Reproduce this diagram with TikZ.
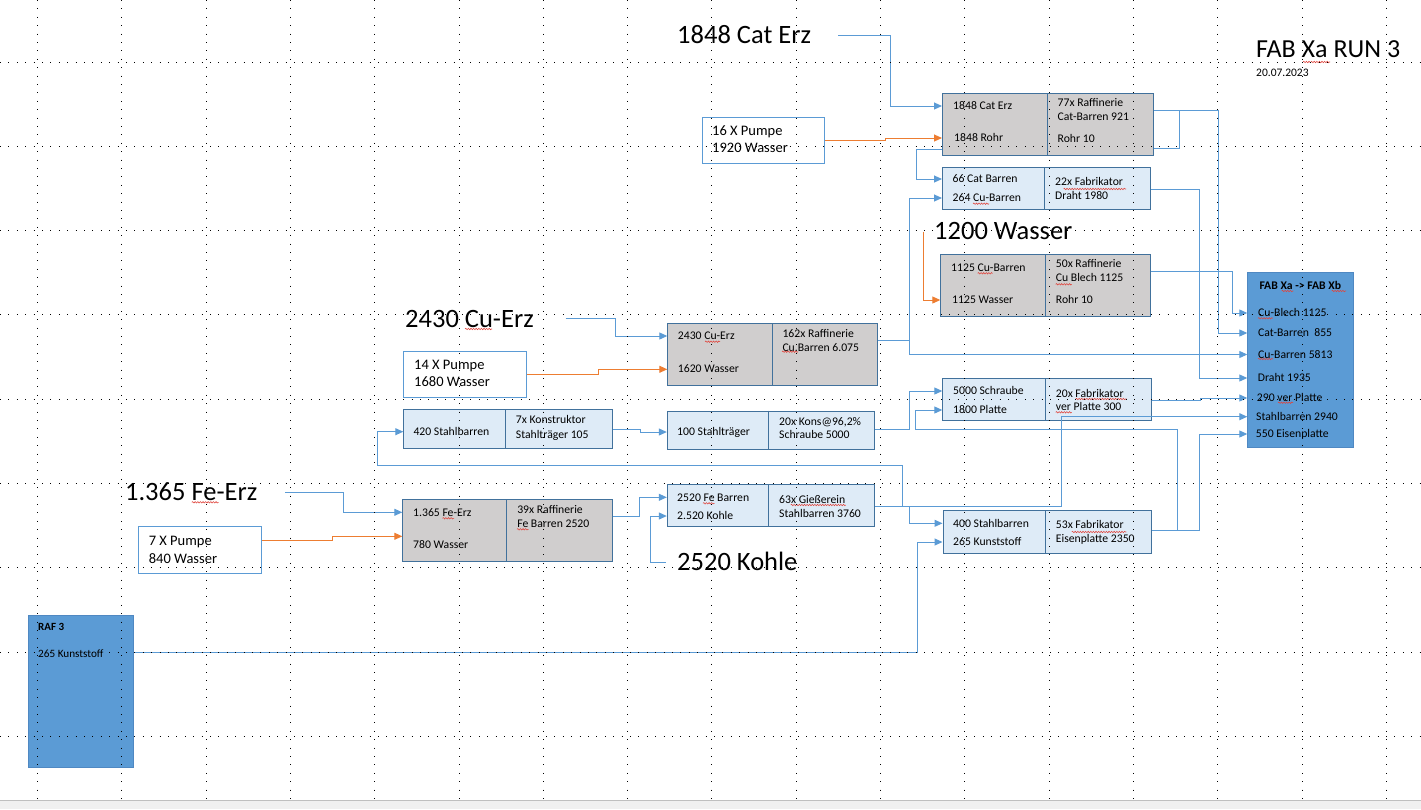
\documentclass[tikz,border=0pt]{standalone}
\usepackage{fontspec}
\setmainfont{Carlito}
\usetikzlibrary{arrows.meta,decorations.pathmorphing}
\definecolor{boxblue}{HTML}{41719C}
\definecolor{gfill}{HTML}{D0CECE}
\definecolor{lfill}{HTML}{DEEBF7}
\definecolor{cblue}{HTML}{5B9BD5}
\definecolor{orng}{HTML}{ED7D31}
\definecolor{fabfill}{HTML}{5B9BD5}
\definecolor{fabdraw}{HTML}{4F88C2}
\definecolor{pumpdraw}{HTML}{5B9BD5}
\definecolor{squigred}{HTML}{E0443C}
\begin{document}
\begin{tikzpicture}[x=1pt,y=-1pt,
 gbox/.style={draw=boxblue, fill=gfill, line width=1pt, inner sep=0pt, anchor=north west},
 lbox/.style={draw=boxblue, fill=lfill, line width=1pt, inner sep=0pt, anchor=north west},
 pbox/.style={draw=pumpdraw, fill=white, line width=1.1pt, inner sep=0pt, anchor=north west},
 fbox/.style={draw=fabdraw, fill=fabfill, line width=1pt, inner sep=0pt, anchor=north west},
 divline/.style={draw=boxblue, line width=0.9pt},
 txt/.style={anchor=west, inner sep=0pt, font=\fontsize{11.7}{13}\selectfont, text height=7.4pt, text depth=0pt},
 btxt/.style={txt, font=\fontsize{11.7}{13}\selectfont\bfseries},
 ptxt/.style={anchor=west, inner sep=0pt, font=\fontsize{14.5}{16}\selectfont, text height=9.2pt, text depth=0pt},
 bigtxt/.style={anchor=west, inner sep=0pt, font=\fontsize{26.5}{30}\selectfont, text height=16.8pt, text depth=0pt},
 conn/.style={draw=cblue, line width=1pt, -{Triangle[length=8pt,width=7pt]}},
 oconn/.style={draw=orng, line width=1pt, -{Triangle[length=8pt,width=7pt]}},
 cline/.style={draw=cblue, line width=1pt},
 squig/.style={draw=squigred, line width=0.55pt, decorate, decoration={snake, segment length=2.6pt, amplitude=0.7pt}},
 griddot/.style={draw=black, line width=0.9pt, dash pattern=on 0.9pt off 7.5pt}
]
\useasboundingbox (0,0) rectangle (1421,809);
\fill[white] (0,0) rectangle (1421,809);
\fill[black!6] (0,800) rectangle (1421,809);
\draw[black!25, line width=0.8pt] (0,800) -- (1421,800);

% ---------- boxes ----------
\node[gbox, minimum width=210.5pt, minimum height=62pt] (boxA) at (942,93.3) {};
\node[lbox, minimum width=208pt, minimum height=42pt] (boxB) at (942,167) {};
\node[gbox, minimum width=209.4pt, minimum height=61.7pt] (boxC) at (940.3,254.3) {};
\node[lbox, minimum width=208.7pt, minimum height=41.7pt] (boxD) at (942.3,378.3) {};
\node[gbox, minimum width=209.4pt, minimum height=62pt] (boxE) at (667.3,323.3) {};
\node[lbox, minimum width=207.5pt, minimum height=38.6pt] (boxF) at (666.8,410.7) {};
\node[lbox, minimum width=208.9pt, minimum height=43pt] (boxG) at (942.5,510.3) {};
\node[lbox, minimum width=207.5pt, minimum height=41.7pt] (boxH) at (666.8,484.3) {};
\node[lbox, minimum width=208.4pt, minimum height=39.3pt] (boxI) at (403.3,409) {};
\node[gbox, minimum width=209.4pt, minimum height=61.7pt] (boxJ) at (402.3,499.3) {};
\node[fbox, minimum width=106pt, minimum height=175.8pt] (fab) at (1247.3,271.5) {};
\node[fbox, minimum width=105.3pt, minimum height=152.3pt] (raf) at (27.6,615) {};
\node[pbox, minimum width=122pt, minimum height=46.3pt] (pump1) at (702,116.7) {};
\node[pbox, minimum width=122.4pt, minimum height=46.6pt] (pump2) at (403.3,350.7) {};
\node[pbox, minimum width=123.2pt, minimum height=47.3pt] (pump3) at (137.5,526) {};

\draw[divline] ([xshift=105.5pt]boxA.north west) -- ([xshift=105.5pt]boxA.south west);
\draw[divline] ([xshift=102pt]boxB.north west) -- ([xshift=102pt]boxB.south west);
\draw[divline] ([xshift=105pt]boxC.north west) -- ([xshift=105pt]boxC.south west);
\draw[divline] ([xshift=102.7pt]boxD.north west) -- ([xshift=102.7pt]boxD.south west);
\draw[divline] ([xshift=105pt]boxE.north west) -- ([xshift=105pt]boxE.south west);
\draw[divline] ([xshift=101.2pt]boxF.north west) -- ([xshift=101.2pt]boxF.south west);
\draw[divline] ([xshift=102.9pt]boxG.north west) -- ([xshift=102.9pt]boxG.south west);
\draw[divline] ([xshift=101.2pt]boxH.north west) -- ([xshift=101.2pt]boxH.south west);
\draw[divline] ([xshift=102pt]boxI.north west) -- ([xshift=102pt]boxI.south west);
\draw[divline] ([xshift=104.1pt]boxJ.north west) -- ([xshift=104.1pt]boxJ.south west);

% ---------- texts ----------
\node[bigtxt] (catErz) at (677,35.5) {1848 Cat Erz};
\node[bigtxt] (wasser) at (934,231.5) {1200 Wasser};
\node[bigtxt] (cuErz) at (405,318.7) {2430 Cu-Erz};
\node[bigtxt] (feErz) at (124.9,492) {1.365 Fe-Erz};
\node[bigtxt] (kohle) at (677,562) {2520 Kohle};
\node[bigtxt, font=\fontsize{26}{30}\selectfont, text height=16.4pt] (title) at (1256,49.5) {FAB Xa RUN 3};
\node[anchor=base west, inner sep=0pt, font=\fontsize{11.5}{13}\selectfont] (date) at (1256,76.7) {20.07.2023};

\node[txt] (tA1) at (953,106) {1848 Cat Erz};
\node[txt] (tA2) at (954,138) {1848 Rohr};
\node[txt] (tAr1) at (1057.5,103) {77x Raffinerie};
\node[txt] (tAr2) at (1057.5,117) {Cat-Barren 921};
\node[txt] (tAr3) at (1057.5,139) {Rohr 10};

\node[txt] (tB1) at (952.5,179) {66 Cat Barren};
\node[txt] (tB2) at (952.5,198) {264 Cu-Barren};
\node[txt] (tBr1) at (1055,182) {22x Fabrikator};
\node[txt] (tBr2) at (1055,196) {Draht 1980};

\node[txt] (tC1) at (951,267.3) {1125 Cu-Barren};
\node[txt] (tC2) at (952,300) {1125 Wasser};
\node[txt] (tCr1) at (1055.7,264) {50x Raffinerie};
\node[txt] (tCr2) at (1055.7,278) {Cu Blech 1125};
\node[txt] (tCr3) at (1055.7,300) {Rohr 10};

\node[txt] (tD1) at (953,391) {5000 Schraube};
\node[txt] (tD2) at (953,410) {1800 Platte};
\node[txt] (tDr1) at (1055.7,393.3) {20x Fabrikator};
\node[txt] (tDr2) at (1055.7,406.7) {ver Platte 300};

\node[txt] (tE1) at (677.7,336) {2430 Cu-Erz};
\node[txt] (tE2) at (677.7,368.3) {1620 Wasser};
\node[txt] (tEr1) at (782.3,333.3) {162x Raffinerie};
\node[txt] (tEr2) at (782.3,347.3) {Cu.Barren 6.075};

\node[txt] (tF1) at (677,432) {100 Stahlträger};
\node[txt] (tFr1) at (779,422) {20x Kons@96,2\%};
\node[txt] (tFr2) at (779,435) {Schraube 5000};

\node[txt] (tG1) at (953,523.3) {400 Stahlbarren};
\node[txt] (tG2) at (953,542) {265 Kunststoff};
\node[txt] (tGr1) at (1055.7,525) {53x Fabrikator};
\node[txt] (tGr2) at (1055.7,539) {Eisenplatte 2350};

\node[txt] (tH1) at (677,497.3) {2520 Fe Barren};
\node[txt] (tH2) at (677,516) {2.520 Kohle};
\node[txt] (tHr1) at (779,499.3) {63x Gießerein};
\node[txt] (tHr2) at (779,513.3) {Stahlbarren 3760};

\node[txt] (tI1) at (413.3,431.7) {420 Stahlbarren};
\node[txt] (tIr1) at (515.7,420) {7x Konstruktor};
\node[txt] (tIr2) at (515.7,434.3) {Stahlträger 105};

\node[txt] (tJ1) at (413,512.3) {1.365 Fe-Erz};
\node[txt] (tJ2) at (413,545) {780 Wasser};
\node[txt] (tJr1) at (517.1,509.3) {39x Raffinerie};
\node[txt] (tJr2) at (517.1,523.3) {Fe Barren 2520};

\node[btxt] (fabT) at (1259.3,286) {FAB Xa -> FAB Xb};
\node[txt] (f1) at (1258,313) {Cu-Blech 1125};
\node[txt] (f2) at (1258,333) {Cat-Barren~ 855};
\node[txt] (f3) at (1258,354.5) {Cu-Barren 5813};
\node[txt] (f4) at (1257.7,378) {Draht 1935};
\node[txt] (f5) at (1256.7,398) {290 ver Platte};
\node[txt] (f6) at (1256,416.7) {Stahlbarren 2940};
\node[txt] (f7) at (1255.7,434) {550 Eisenplatte};

\node[btxt, font=\fontsize{11}{13}\selectfont\bfseries] (rf1) at (38,626.7) {RAF 3};
\node[txt, font=\fontsize{11.2}{13}\selectfont] (rf2) at (38,653.3) {265 Kunststoff};

\node[ptxt] (p1a) at (712,130.7) {16 X Pumpe};
\node[ptxt] (p1b) at (712,148) {1920 Wasser};
\node[ptxt] (p2a) at (414,364.7) {14 X Pumpe};
\node[ptxt] (p2b) at (414,382.3) {1680 Wasser};
\node[ptxt] (p3a) at (148.6,540.7) {7 X Pumpe};
\node[ptxt] (p3b) at (148.6,558.7) {840 Wasser};

% ---------- connectors ----------
\draw[conn] ([xshift=27pt]catErz.east) -- ++(52,0) |- (boxA.west |- tA1);
\draw[oconn] (pump1.east) -- ++(60,0) |- (boxA.west |- tA2);
\draw[conn] (boxA.west |- 0,149) -- ++(-26,0) |- (boxB.west |- tB1);
\draw[cline] (boxA.east |- 0,148.7) -- ++(25.5,0) -- ++(0,-38);
\draw[conn] (boxA.east |- 0,110.7) -- ++(65.2,0) |- (fab.west |- f2);
\draw[conn] (boxB.east |- 0,189.3) -- ++(48.7,0) |- (fab.west |- f4);
\draw[oconn] ([xshift=-10.7pt]wasser.west) |- (boxC.west |- tC2);
\draw[conn] (boxC.east |- 0,271.3) -- ++(81.3,0) |- (fab.west |- f1);
\draw[conn] ([xshift=31.7pt]cuErz.east) -- ++(50.3,0) |- (boxE.west |- tE1);
\draw[oconn] (pump2.east) -- ++(71.3,0) |- (boxE.west |- 0,369.3);
\draw[conn] (boxE.east |- 0,340.7) -- ++(32,0) coordinate (jE) |- (boxB.west |- tB2);
\draw[conn] (jE) |- (fab.west |- f3);
\draw[conn] (boxI.east |- 0,429) -- ++(27.3,0) |- (boxF.west |- tF1);
\draw[conn] (boxF.east |- 0,429.3) -- ++(34.4,0) |- (boxD.west |- tD1);
\draw[conn] (boxG.east |- 0,530) -- ++(25.3,0) -- ++(0,-100.7) -- ++(-262,0) |- (boxD.west |- tD2);
\draw[conn] (boxG.east |- 0,530) -- ++(47.3,0) |- (fab.west |- f7);
\draw[conn] (boxD.east |- 0,400.3) -- ++(48,0) |- (fab.west |- f5);
\draw[conn] (boxH.east |- 0,506.7) -- ++(185.7,0) |- (fab.west |- f6);
\draw[conn] (boxH.east |- 0,506.7) -- ++(27.4,0) -- ++(0,-41) -- ++(-525.7,0) |- (boxI.west |- tI1);
\draw[conn] (boxH.east |- 0,506.7) -- ++(34.3,0) |- (boxG.west |- tG1);
\draw[conn] (raf.east |- 0,652.3) -- ++(783.8,0) |- (boxG.west |- tG2);
\draw[conn] ([xshift=27.8pt]feErz.east) -- ++(58.2,0) |- (boxJ.west |- tJ1);
\draw[oconn] (pump3.east |- 0,540.7) -- ++(70.8,0) |- (boxJ.west |- 0,536.3);
\draw[conn] (boxJ.east |- 0,516.7) -- ++(26.8,0) |- (boxH.west |- tH1);
\draw[conn] ([xshift=-11.3pt]kohle.west) -- ++(-15.7,0) |- (boxH.west |- tH2);

% ---------- spell-check marks ----------
\draw[squig] (1303,62) -- (1330,62);
\draw[squig] (465,329) -- (492,329);
\draw[squig] (705,341.7) -- (720,341.7);
\draw[squig] (782,351.7) -- (798,351.7);
\draw[squig] (973,203.7) -- (989,203.7);
\draw[squig] (1063.6,189) -- (1126,189);
\draw[squig] (977.7,273.3) -- (992.7,273.3);
\draw[squig] (1055.7,284.3) -- (1071.7,284.3);
\draw[squig] (1281.7,291) -- (1293.3,291);
\draw[squig] (1331.7,291) -- (1346,291);
\draw[squig] (1258,318.3) -- (1272.7,318.3);
\draw[squig] (1258,359) -- (1273,359);
\draw[squig] (1278,402.7) -- (1293,402.7);
\draw[squig] (1075.7,399) -- (1126.7,399);
\draw[squig] (1055.7,412.3) -- (1071.7,412.3);
\draw[squig] (1071.8,532) -- (1126.4,532);
\draw[squig] (703,503.3) -- (714.6,503.3);
\draw[squig] (790.7,505) -- (845.7,505);
\draw[squig] (442.5,518.3) -- (454,518.3);
\draw[squig] (517,529.3) -- (528.6,529.3);
\draw[squig] (191.8,502.3) -- (218.6,502.3);

% ---------- grid ----------
\foreach \yy in {62,146.3,230.6,314.9,399.2,483.5,567.8,652.1,736.4}
  \draw[griddot] (0,\yy) -- (1421,\yy);
\foreach \k in {0,...,16}
  \draw[griddot] ({37.5+84.3*\k},0) -- ({37.5+84.3*\k},800);
\end{tikzpicture}
\end{document}
